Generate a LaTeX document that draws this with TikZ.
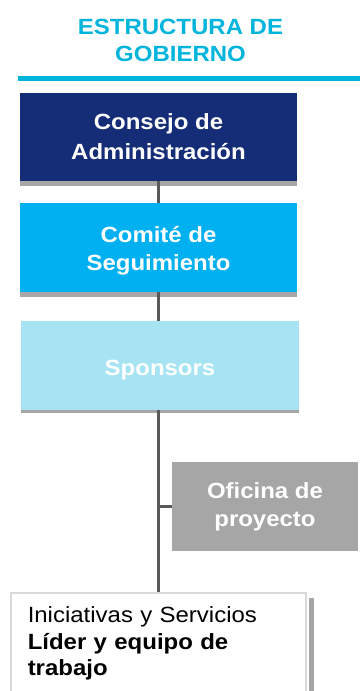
\documentclass[tikz,border=0pt]{standalone}
\usepackage{fontspec}
\setmainfont{Liberation Sans}[FakeStretch=1.09]
\usetikzlibrary{calc}

\definecolor{govcyan}{RGB}{0,180,220}
\definecolor{govnavy}{RGB}{21,44,119}
\definecolor{govblue}{RGB}{0,176,240}
\definecolor{govlight}{RGB}{167,228,243}
\definecolor{govgray}{RGB}{166,166,166}
\definecolor{govline}{RGB}{89,89,89}

\begin{document}
\begin{tikzpicture}[x=1pt,y=-1pt]
\useasboundingbox (0,0) rectangle (360,691);
% Specify the looks of the boxes
\tikzstyle{box}=[rectangle,inner sep=0,align=center,text=white,font=\bfseries\fontsize{22}{28}\selectfont]
\tikzstyle{shade}=[fill=govgray]
\tikzstyle{link}=[draw=govline,line width=3.5]
\tikzset{
navy box/.style={box,fill=govnavy,minimum width=277,minimum height=88},
blue box/.style={box,fill=govblue,minimum width=277,minimum height=89,text height=45pt,text depth=0pt},
light box/.style={box,fill=govlight,minimum width=278,minimum height=89,text height=19pt,text depth=0pt},
gray box/.style={box,fill=govgray,minimum width=186,minimum height=89},
team box/.style={rectangle,draw=black!15,line width=1.5,fill=white,text=black,align=left,
  text width=261,inner xsep=17,inner ysep=14,font=\fontsize{22}{26.5}\selectfont}
}
\node[font=\bfseries\fontsize{22}{27}\selectfont,text=govcyan,align=center] (title) at (180.5,40.5) {ESTRUCTURA DE\\GOBIERNO};
\draw[govcyan,line width=5] (18,78.5) -- (360,78.5);

\node[navy box] (consejo) at (158.5,137) {Consejo de\\[2pt]Administración};
\node[blue box] (comite) at (158.5,247.5) {Comité de\\Seguimiento};
\node[light box] (sponsors) at (160,365.5) {Sponsors};
\node[gray box] (oficina) at (265,506.5) {Oficina de\\proyecto};
\node[team box,anchor=north west] (lider) at (10,592) {Iniciativas y Servicios\\\textbf{Líder y equipo de}\\\textbf{trabajo}};

% shadows under the boxes
\fill[shade] (consejo.south west) rectangle ([yshift=-5pt]consejo.south east);
\fill[shade] (comite.south west) rectangle ([yshift=-5pt]comite.south east);
\fill[shade] (sponsors.south west) rectangle ([yshift=-3pt]sponsors.south east);
\fill[shade] ([xshift=2pt,yshift=-6pt]lider.north east) rectangle ([xshift=7pt]lider.south east);

\draw[link] (consejo.south) -- (consejo.south |- comite.north);
\draw[link] (consejo.south |- comite.south) -- (consejo.south |- sponsors.north);
\draw[link] (consejo.south |- sponsors.south) -- (consejo.south |- lider.north);
\draw[link] (consejo.south |- oficina.west) -- (oficina.west);
\end{tikzpicture}
\end{document}
